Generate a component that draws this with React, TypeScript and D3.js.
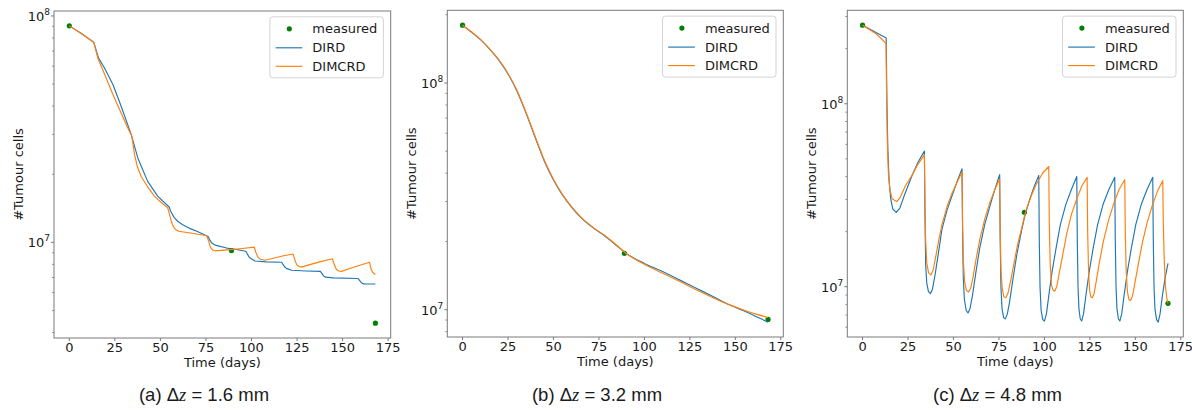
import React from 'react';
import * as d3 from 'd3';

type Pt = [number, number];

// ---------- data (days, #tumour cells) ----------
const xTickValues = [0, 25, 50, 75, 100, 125, 150, 175];
const legendLabels = ['measured', 'DIRD', 'DIMCRD'];
const captionLetters = ['(a)', '(b)', '(c)'];
const dzValues = ['1.6', '3.2', '4.8'];

const aMeasured: Pt[] = [[0, 9.04e7], [89, 9.2e6], [168, 4.4e6]];
const aDIRD: Pt[] = [
  [0, 9.04e7], [6.4, 8.39e7], [13.4, 7.66e7], [16, 6.53e7], [19.4, 5.87e7], [24, 4.97e7], [28.5, 3.98e7],
  [34, 2.99e7], [37.6, 2.36e7], [43, 1.86e7], [48.5, 1.6e7], [54.9, 1.43e7], [55.5, 1.38e7], [57.5, 1.29e7],
  [59.5, 1.24e7], [62, 1.2e7], [66.4, 1.15e7], [70, 1.12e7], [75.3, 1.07e7], [76.3, 1.06e7], [77.2, 1.02e7],
  [78.2, 9.93e6], [80, 9.73e6], [86.4, 9.44e6], [90, 9.35e6], [95.5, 9.18e6], [97, 9.12e6], [97.8, 8.87e6],
  [98.6, 8.63e6], [99.4, 8.51e6], [102, 8.28e6], [108, 8.2e6], [116.5, 8.17e6], [117.4, 7.98e6], [118.4, 7.76e6],
  [119.4, 7.66e6], [122, 7.53e6], [130, 7.48e6], [137.8, 7.45e6], [138.7, 7.28e6], [139.6, 7.1e6], [140.6, 7.02e6],
  [145, 6.97e6], [158.4, 6.93e6], [159.3, 6.79e6], [160.3, 6.64e6], [161.3, 6.56e6], [163, 6.55e6], [168, 6.55e6],
];
const aDIMCRD: Pt[] = [
  [0, 9.04e7], [6.4, 8.39e7], [13.4, 7.66e7], [15.7, 6.5e7], [20, 5.37e7], [24, 4.49e7], [28.5, 3.72e7],
  [33, 3.09e7], [34.3, 2.95e7], [35.8, 2.44e7], [37.5, 2.14e7], [39.5, 1.95e7], [43, 1.76e7], [46.7, 1.6e7],
  [50.5, 1.5e7], [54, 1.42e7], [55, 1.33e7], [56, 1.24e7], [57, 1.18e7], [58.3, 1.14e7], [60, 1.12e7],
  [66.4, 1.1e7], [75.5, 1.07e7], [76.5, 1.01e7], [77.5, 9.51e6], [78.7, 9.25e6], [80, 9.18e6], [85, 9.25e6],
  [90, 9.31e6], [95, 9.4e6], [101.5, 9.53e6], [102.4, 9.02e6], [103.5, 8.61e6], [104.8, 8.43e6], [107.4, 8.34e6],
  [112, 8.51e6], [117, 8.71e6], [122.8, 8.89e6], [123.7, 8.41e6], [124.8, 7.98e6], [126, 7.83e6], [127.4, 7.78e6],
  [132, 7.98e6], [138, 8.22e6], [144.4, 8.47e6], [145.4, 8.0e6], [146.6, 7.59e6], [148, 7.48e6], [149.3, 7.45e6],
  [154, 7.67e6], [159, 7.91e6], [164.8, 8.17e6], [165.7, 7.59e6], [166.6, 7.36e6], [168, 7.21e6],
];

const bMeasured: Pt[] = [[0, 1.8e8], [89, 1.77e7], [168, 9.06e6]];
const bDIRD: Pt[] = [
  [0, 1.8e8], [5, 1.675e8], [10, 1.549e8], [15, 1.406e8], [20, 1.259e8], [25, 1.096e8], [30, 9.18e7],
  [35, 7.33e7], [40, 5.73e7], [45, 4.52e7], [50, 3.73e7], [55, 3.2e7], [60, 2.83e7], [66, 2.51e7],
  [72, 2.29e7], [78, 2.12e7], [84, 1.94e7], [90, 1.77e7], [100, 1.6e7], [110.3, 1.47e7], [119.5, 1.35e7],
  [128.8, 1.24e7], [138, 1.14e7], [147.3, 1.045e7], [156.5, 9.75e6], [162, 9.29e6], [168, 8.81e6],
];
const bDIMCRD: Pt[] = [
  [0, 1.8e8], [5, 1.678e8], [10, 1.553e8], [15, 1.411e8], [20, 1.265e8], [25, 1.102e8], [30, 9.25e7],
  [35, 7.39e7], [40, 5.78e7], [45, 4.56e7], [50, 3.76e7], [55, 3.22e7], [60, 2.84e7], [66, 2.52e7],
  [72, 2.3e7], [78, 2.13e7], [84, 1.95e7], [90, 1.77e7], [100, 1.585e7], [110.3, 1.445e7], [119.5, 1.33e7],
  [128.8, 1.22e7], [138, 1.127e7], [147.3, 1.047e7], [156.5, 9.84e6], [162, 9.53e6], [168, 9.23e6],
];

const cMeasured: Pt[] = [[0, 2.69e8], [89, 2.55e7], [168, 8.11e6]];
const cDIRD: Pt[] = [
  [0, 2.69e8], [13.0, 2.29e8], [13.4, 1.0e8], [13.9, 5.62e7], [14.6, 3.8e7], [15.5, 3.02e7], [16.6, 2.66e7],
  [18.5, 2.55e7], [20.5, 2.69e7], [23, 3.16e7], [27.2, 4.05e7], [30.5, 4.79e7], [34.0, 5.51e7],
  [34.3, 2.51e7], [34.7, 1.32e7], [35.3, 1.05e7], [36.2, 9.44e6], [37.3, 9.16e6], [38.4, 9.66e6], [39.8, 1.15e7],
  [41.5, 1.48e7], [43.7, 2.07e7], [46.5, 2.63e7], [49.2, 3.14e7], [52.0, 3.76e7], [54.7, 4.41e7],
  [55.0, 2.0e7], [55.4, 1.12e7], [56.0, 8.51e6], [57.0, 7.41e6], [58.0, 7.19e6], [59.1, 7.59e6], [60.4, 8.91e6],
  [62.2, 1.175e7], [64.4, 1.62e7], [67.2, 2.19e7], [70.0, 2.75e7], [72.7, 3.39e7], [75.4, 4.1e7],
  [75.7, 1.78e7], [76.1, 1.0e7], [76.7, 7.59e6], [77.6, 6.76e6], [78.5, 6.67e6], [79.6, 7.08e6], [80.9, 8.32e6],
  [82.7, 1.1e7], [84.9, 1.51e7], [87.5, 2.04e7], [89.4, 2.48e7], [92, 3.02e7], [94.5, 3.55e7], [96.9, 4.05e7],
  [97.2, 1.78e7], [97.6, 1.0e7], [98.2, 7.41e6], [99.1, 6.61e6], [100.0, 6.49e6], [101.1, 7.08e6], [102.4, 8.91e6],
  [104.2, 1.2e7], [106.4, 1.62e7], [108.8, 2.19e7], [111.8, 2.82e7], [114.8, 3.39e7], [117.8, 4.0e7],
  [118.1, 1.78e7], [118.5, 1.0e7], [119.0, 7.59e6], [119.7, 6.68e6], [120.5, 6.49e6], [121.5, 7.08e6], [122.8, 8.91e6],
  [124.6, 1.2e7], [126.8, 1.62e7], [129.3, 2.19e7], [132.3, 2.82e7], [135.4, 3.39e7], [138.7, 3.96e7],
  [139.0, 1.78e7], [139.4, 1.0e7], [139.9, 7.59e6], [140.7, 6.68e6], [141.5, 6.49e6], [142.5, 7.08e6], [143.8, 8.91e6],
  [145.6, 1.2e7], [147.8, 1.62e7], [150.3, 2.19e7], [153.3, 2.82e7], [156.4, 3.39e7], [159.6, 3.96e7],
  [159.9, 1.78e7], [160.3, 1.0e7], [160.8, 7.59e6], [161.7, 6.61e6], [162.6, 6.4e6], [163.6, 7.08e6], [164.9, 8.91e6],
  [166.4, 1.12e7], [168, 1.34e7],
];
const cDIMCRD: Pt[] = [
  [0, 2.69e8], [7, 2.43e8], [10.5, 2.26e8], [12.9, 2.14e8], [13.2, 1.12e8], [13.6, 6.31e7], [14.2, 4.17e7],
  [15.0, 3.39e7], [16.3, 3.02e7], [18.9, 2.92e7], [20.8, 3.09e7], [23.5, 3.55e7], [27.2, 4.07e7], [30.5, 4.68e7],
  [34.0, 5.26e7], [34.3, 2.82e7], [34.7, 1.78e7], [35.3, 1.35e7], [36.3, 1.19e7], [37.6, 1.16e7], [38.8, 1.23e7],
  [40.2, 1.45e7], [42, 1.82e7], [43.7, 2.19e7], [46.5, 2.75e7], [49.2, 3.24e7], [52.0, 3.72e7], [54.7, 4.23e7],
  [55.0, 2.24e7], [55.4, 1.41e7], [56.1, 1.07e7], [57.1, 9.55e6], [58.3, 9.35e6], [59.4, 9.77e6], [60.7, 1.12e7],
  [62.4, 1.41e7], [64.5, 1.82e7], [67.2, 2.34e7], [70.0, 2.88e7], [72.7, 3.39e7], [75.4, 3.88e7],
  [75.7, 2.0e7], [76.1, 1.26e7], [76.8, 9.77e6], [77.7, 8.81e6], [78.8, 8.71e6], [80.0, 9.23e6], [81.4, 1.07e7],
  [83.3, 1.35e7], [85.5, 1.74e7], [87.5, 2.09e7], [89.4, 2.51e7], [92.5, 3.09e7], [95.5, 3.63e7], [99, 4.17e7],
  [102.4, 4.54e7], [102.7, 2.24e7], [103.2, 1.32e7], [103.9, 1.02e7], [104.8, 9.55e6], [105.7, 9.46e6],
  [106.8, 1.0e7], [108.1, 1.175e7], [110, 1.48e7], [112.3, 1.95e7], [115, 2.51e7], [117.8, 3.02e7], [120.6, 3.55e7],
  [123.5, 3.96e7], [123.8, 2.0e7], [124.3, 1.2e7], [124.9, 9.55e6], [125.5, 8.81e6], [126.3, 8.71e6], [127.3, 9.12e6],
  [128.5, 1.07e7], [130.2, 1.35e7], [132.5, 1.78e7], [135.2, 2.29e7], [138, 2.82e7], [141, 3.39e7], [144.2, 3.84e7],
  [144.5, 2.0e7], [145, 1.2e7], [145.7, 9.33e6], [146.5, 8.51e6], [147.4, 8.41e6], [148.5, 8.91e6], [149.8, 1.05e7],
  [151.6, 1.32e7], [153.9, 1.74e7], [156.5, 2.24e7], [159.2, 2.75e7], [162.1, 3.31e7], [165.1, 3.8e7],
  [165.4, 2.24e7], [165.9, 1.41e7], [166.6, 1.0e7], [167.3, 8.71e6], [168, 8.11e6],
];

// ---------- layout / style ----------
const W = 1192;
const H = 410;
const BLUE = '#1f77b4';
const ORANGE = '#ff7f0e';
const GREEN = '#008000';
const SPINE = '#7a7a7a';
const TEXT = '#1a1a1a';
const FONT = 'DejaVu Sans, sans-serif';

type Box = { left: number; right: number; top: number; bottom: number };

const panels = [
  { box: { left: 54, right: 390.7, top: 11, bottom: 338 }, dird: aDIRD, dimcrd: aDIMCRD, measured: aMeasured, capX: 204, smooth: false },
  { box: { left: 447.3, right: 783.3, top: 10.3, bottom: 337 }, dird: bDIRD, dimcrd: bDIMCRD, measured: bMeasured, capX: 597, smooth: true },
  { box: { left: 847.3, right: 1183.3, top: 10.3, bottom: 337 }, dird: cDIRD, dimcrd: cDIMCRD, measured: cMeasured, capX: 997.5, smooth: false },
];

function Panel({ box, dird, dimcrd, measured, capX, idx, smooth }: { box: Box; dird: Pt[]; dimcrd: Pt[]; measured: Pt[]; capX: number; idx: number; smooth: boolean }) {
  const all = [...dird, ...dimcrd, ...measured];
  const [x0, x1] = d3.extent(all, (d) => d[0]) as [number, number];
  const xPad = (x1 - x0) * 0.05;
  const x = d3.scaleLinear().domain([x0 - xPad, x1 + xPad]).range([box.left, box.right]);
  const [l0, l1] = d3.extent(all, (d) => Math.log10(d[1])) as [number, number];
  const lPad = (l1 - l0) * 0.05;
  const yDomain: [number, number] = [Math.pow(10, l0 - lPad), Math.pow(10, l1 + lPad)];
  const y = d3.scaleLog().domain(yDomain).range([box.bottom, box.top]);

  const majors: number[] = [];
  const minors: number[] = [];
  for (let n = Math.floor(l0 - lPad); n <= Math.ceil(l1 + lPad); n++) {
    for (let k = 1; k <= 9; k++) {
      const v = k * Math.pow(10, n);
      if (v >= yDomain[0] && v <= yDomain[1]) {
        if (k === 1) majors.push(n);
        else minors.push(v);
      }
    }
  }

  const line = d3.line<Pt>().x((d) => x(d[0])).y((d) => y(d[1])).curve(smooth ? d3.curveMonotoneX : d3.curveLinear);
  const midY = (box.top + box.bottom) / 2;
  const midX = (box.left + box.right) / 2;

  const lgW = 113.5;
  const lgH = 61;
  const lgL = box.right - 7.3 - lgW;
  const lgT = box.top + 5.8;
  const rows = [lgT + 12, lgT + 31, lgT + 49.5];

  return (
    <g>
      {measured.map((d, i) => (
        <circle key={'m' + i} cx={x(d[0])} cy={y(d[1])} r={2.6} fill={GREEN} />
      ))}
      <path d={line(dird) || ''} fill="none" stroke={BLUE} strokeWidth={1.15} strokeLinejoin="round" />
      <path d={line(dimcrd) || ''} fill="none" stroke={ORANGE} strokeWidth={1.15} strokeLinejoin="round" />

      <rect x={box.left} y={box.top} width={box.right - box.left} height={box.bottom - box.top} fill="none" stroke={SPINE} strokeWidth={1} />

      {xTickValues.map((t) => (
        <g key={'xt' + t}>
          <line x1={x(t)} x2={x(t)} y1={box.bottom} y2={box.bottom + 3} stroke={SPINE} strokeWidth={1} />
          <text x={x(t)} y={box.bottom + 14} textAnchor="middle" fontFamily={FONT} fontSize={13} fill={TEXT}>{t}</text>
        </g>
      ))}
      <text x={midX} y={box.bottom + 28.5} textAnchor="middle" fontFamily={FONT} fontSize={13} fill={TEXT}>Time (days)</text>

      {minors.map((v, i) => (
        <line key={'mn' + i} x1={box.left - 2} x2={box.left} y1={y(v)} y2={y(v)} stroke={SPINE} strokeWidth={0.8} />
      ))}
      {majors.map((n) => (
        <g key={'mj' + n}>
          <line x1={box.left - 3} x2={box.left} y1={y(Math.pow(10, n))} y2={y(Math.pow(10, n))} stroke={SPINE} strokeWidth={1} />
          <text x={box.left - 4} y={y(Math.pow(10, n)) + 5} textAnchor="end" fontFamily={FONT} fontSize={13} fill={TEXT}>
            10<tspan fontSize={9} dy={-6}>{n}</tspan>
          </text>
        </g>
      ))}
      <text transform={`translate(${box.left - 36},${midY}) rotate(-90)`} textAnchor="middle" dy={4.5} fontFamily={FONT} fontSize={13} fill={TEXT}>#Tumour cells</text>

      <rect x={lgL} y={lgT} width={lgW} height={lgH} rx={3} fill="#fff" fillOpacity={0.8} stroke="#d4d4d4" strokeWidth={1} />
      <circle cx={lgL + 19.4} cy={rows[0]} r={2.6} fill={GREEN} />
      <line x1={lgL + 5.7} x2={lgL + 32.4} y1={rows[1]} y2={rows[1]} stroke={BLUE} strokeWidth={1.15} />
      <line x1={lgL + 5.7} x2={lgL + 32.4} y1={rows[2]} y2={rows[2]} stroke={ORANGE} strokeWidth={1.15} />
      {legendLabels.map((lab, i) => (
        <text key={lab} x={lgL + 42.4} y={rows[i] + 4.6} fontFamily={FONT} fontSize={13} fill={TEXT}>{lab}</text>
      ))}

      <text x={capX} y={400.5} textAnchor="middle" fontFamily="Liberation Sans, Arial, sans-serif" fontSize={18.5} fill={TEXT}>
        {captionLetters[idx]} Δ<tspan fontFamily="Liberation Serif, serif" fontStyle="italic">z</tspan> = {dzValues[idx]} mm
      </text>
    </g>
  );
}

export default function App() {
  return (
    <svg width={W} height={H} viewBox={`0 0 ${W} ${H}`} style={{ position: 'absolute', left: 0, top: 0, background: '#fff' }}>
      <rect x={0} y={0} width={W} height={H} fill="#fff" />
      {panels.map((p, i) => (
        <Panel key={i} idx={i} box={p.box} dird={p.dird} dimcrd={p.dimcrd} measured={p.measured} capX={p.capX} smooth={p.smooth} />
      ))}
    </svg>
  );
}
